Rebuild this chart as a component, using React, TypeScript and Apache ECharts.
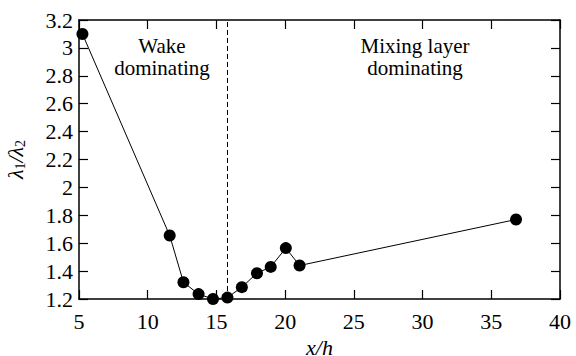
import React, { useEffect, useRef } from "react";
import * as echarts from "echarts";

const xValues = [5.25, 11.6, 12.6, 13.7, 14.75, 15.8, 16.85, 17.95, 18.95, 20.05, 21.05, 36.8];
const yValues = [3.1, 1.655, 1.32, 1.235, 1.2, 1.21, 1.285, 1.385, 1.43, 1.565, 1.44, 1.77];
const dividerX = 15.8;
const xTicks = { min: 5, max: 40, interval: 5 };
const yTicks = { min: 1.2, max: 3.2, interval: 0.2 };
const regionLabels = [
  { lines: ["Wake", "dominating"], x: 162 },
  { lines: ["Mixing layer", "dominating"], x: 415 },
];

const FONT = "Liberation Serif";

export default function App() {
  const ref = useRef<HTMLDivElement>(null);
  useEffect(() => {
    const chart = echarts.init(ref.current!, null, { renderer: "svg" });
    const axisCommon = {
      axisLine: { show: true, lineStyle: { color: "#000", width: 1.5 } },
      axisTick: { show: true, inside: true, length: 9, lineStyle: { color: "#000", width: 1.2 } },
      splitLine: { show: false },
    };
    const graphics: any[] = [];
    regionLabels.forEach((r) => {
      r.lines.forEach((line, i) => {
        graphics.push({
          type: "text",
          x: r.x,
          y: 46 + i * 22,
          style: {
            text: line,
            fontFamily: FONT,
            fontSize: 21,
            fill: "#000",
            align: "center",
            verticalAlign: "middle",
          },
        });
      });
    });
    chart.setOption({
      animation: false,
      backgroundColor: "#fff",
      grid: { left: 79, right: 16, top: 20, bottom: 57, containLabel: false, outerBoundsMode: "none" },
      xAxis: [
        {
          type: "value",
          min: xTicks.min,
          max: xTicks.max,
          interval: xTicks.interval,
          position: "bottom",
          name: "x/h",
          nameLocation: "middle",
          nameGap: 29,
          nameTextStyle: { fontFamily: FONT, fontSize: 22, fontStyle: "italic", color: "#000" },
          axisLabel: { fontFamily: FONT, fontSize: 22, color: "#000", margin: 11 },
          ...axisCommon,
        },
        {
          type: "value",
          min: xTicks.min,
          max: xTicks.max,
          interval: xTicks.interval,
          position: "top",
          axisLabel: { show: false },
          ...axisCommon,
        },
      ],
      yAxis: [
        {
          type: "value",
          min: yTicks.min,
          max: yTicks.max,
          interval: yTicks.interval,
          position: "left",
          name: "{g|λ}{s|1}{g|/λ}{s|2}",
          nameLocation: "middle",
          nameGap: 52,
          nameTextStyle: {
            color: "#000",
            rich: {
              g: { fontFamily: FONT, fontSize: 22, fontStyle: "italic", color: "#000" },
              s: { fontFamily: FONT, fontSize: 14, color: "#000", padding: [10, 0, 0, 0] },
            },
          },
          axisLabel: {
            fontFamily: FONT,
            fontSize: 22,
            color: "#000",
            margin: 6,
            formatter: (v: number) => String(Math.round(v * 10) / 10),
          },
          ...axisCommon,
        },
        {
          type: "value",
          min: yTicks.min,
          max: yTicks.max,
          interval: yTicks.interval,
          position: "right",
          axisLabel: { show: false },
          ...axisCommon,
        },
      ],
      graphic: graphics,
      series: [
        {
          type: "line",
          data: xValues.map((x, i) => [x, yValues[i]]),
          clip: false,
          symbol: "circle",
          symbolSize: 12,
          itemStyle: { color: "#000" },
          lineStyle: { color: "#000", width: 1 },
          markLine: {
            silent: true,
            symbol: ["none", "none"],
            label: { show: false },
            lineStyle: { color: "#000", width: 1, type: [5, 3] },
            data: [{ xAxis: dividerX }],
          },
        },
      ],
    });
    return () => chart.dispose();
  }, []);
  return (
    <div
      ref={ref}
      style={{ position: "absolute", left: 0, top: 0, width: 576, height: 356 }}
    />
  );
}
